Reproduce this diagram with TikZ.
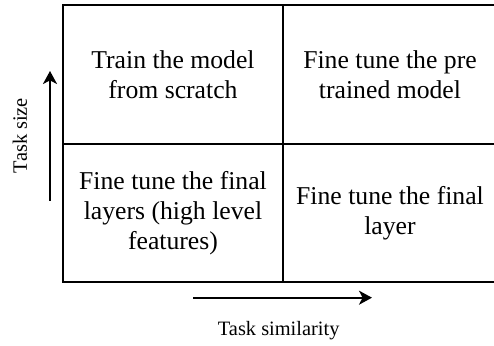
\documentclass[tikz,border=0pt]{standalone}
\usepackage{fontspec}
\setmainfont{Liberation Serif}
\usetikzlibrary{arrows.meta}
\begin{document}
\begin{tikzpicture}[x=0.5pt,y=-0.5pt,
  cell/.style={draw, line width=1pt, inner sep=0pt, align=center,
    font=\fontsize{12.85}{15}\selectfont},
  axis/.style={line width=1pt, -{Stealth[length=6.5pt,width=7pt,inset=1.8pt]}},
  axislabel/.style={font=\fontsize{10.2}{12}\selectfont, inner sep=0pt}]
\useasboundingbox (0,0) rectangle (494,346);
% 2x2 decision grid
\node[cell, minimum width=110pt, minimum height=69.5pt] (tl) at (173,74.5)
  {Train the model\\from scratch};
\node[cell, minimum width=107pt, minimum height=69.5pt] (tr) at (390,74.5)
  {Fine tune the pre\\trained model};
\node[cell, minimum width=110pt, minimum height=69pt] (bl) at (173,213)
  {Fine tune the final\\layers (high level\\features)};
\node[cell, minimum width=107pt, minimum height=69pt] (br) at (390,213)
  {Fine tune the final\\layer};
% axes
\coordinate (ys) at (50,201);
\coordinate (ye) at (50,71);
\draw[axis] (ys) -- (ye);
\node[axislabel, rotate=90] (ylab) at (20,135.5) {Task size};
\coordinate (xs) at (193,297.7);
\coordinate (xe) at (372,297.7);
\draw[axis] (xs) -- (xe);
\node[axislabel] (xlab) at (278.7,331) {Task similarity};
\end{tikzpicture}
\end{document}
